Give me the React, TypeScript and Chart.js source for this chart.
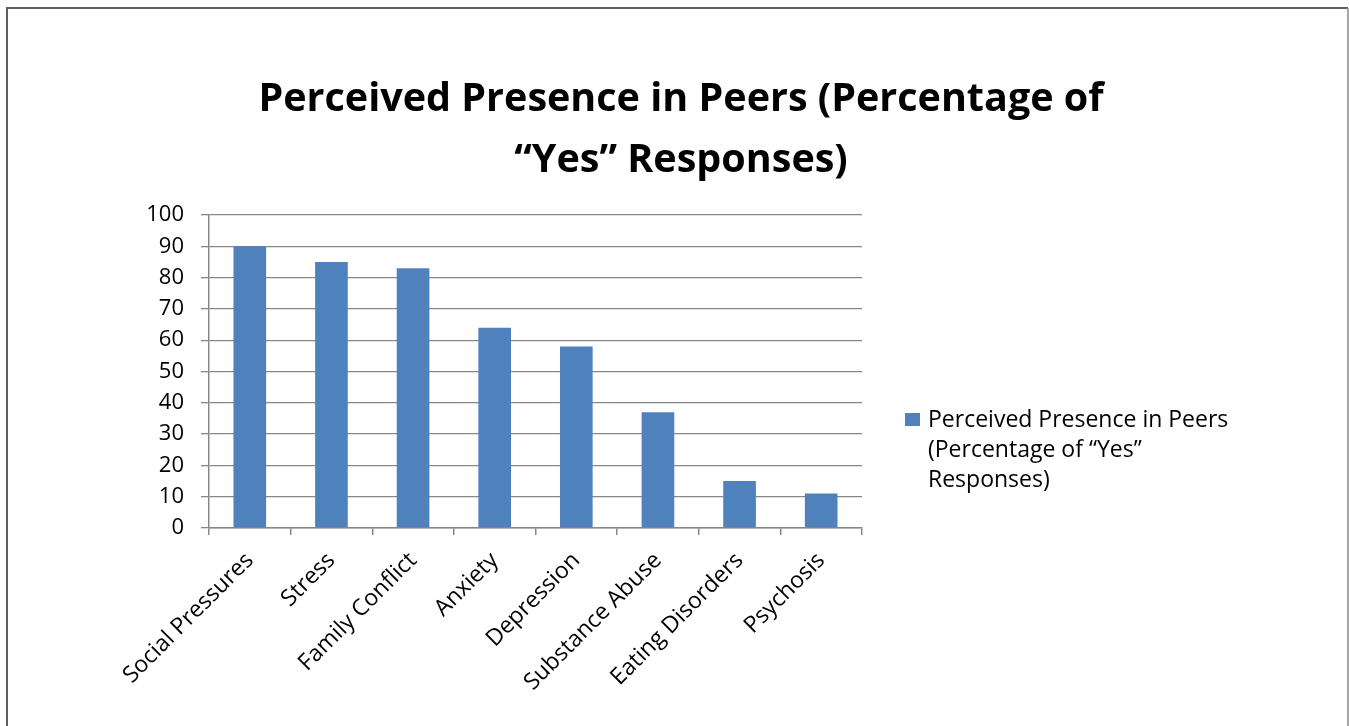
import React, { useEffect, useRef } from "react";
import { Chart, registerables } from "chart.js";

Chart.register(...registerables);

const categories = [
  "Social Pressures",
  "Stress",
  "Family Conflict",
  "Anxiety",
  "Depression",
  "Substance Abuse",
  "Eating Disorders",
  "Psychosis",
];
const yesPercent = [90, 85, 83, 64, 58, 37, 15, 11];
const titleLines = ["Perceived Presence in Peers (Percentage of", "“Yes” Responses)"];
const legendLines = ["Perceived Presence in Peers", "(Percentage of “Yes”", "Responses)"];
const yTickMax = 100;
const yTickStep = 10;

const W = 1349;
const H = 726;
const FONT = "'Open Sans', 'Liberation Sans', sans-serif";
const BAR = "#4F81BD";
const GRID = "#878787";

// Frame, two-line title and wrapped legend drawn on the canvas itself
const decorPlugin = {
  id: "decor",
  beforeDraw(chart: any) {
    const ctx = chart.ctx as CanvasRenderingContext2D;
    ctx.save();
    ctx.fillStyle = "#ffffff";
    ctx.fillRect(0, 0, W, H);
    ctx.lineWidth = 2;
    ctx.strokeStyle = "#5e5e5e";
    ctx.beginPath();
    ctx.moveTo(7, H);
    ctx.lineTo(7, 8);
    ctx.lineTo(1348, 8);
    ctx.stroke();
    ctx.strokeStyle = "#a6a6a6";
    ctx.beginPath();
    ctx.moveTo(1348, 8);
    ctx.lineTo(1348, H);
    ctx.stroke();
    ctx.restore();
  },
  afterDraw(chart: any) {
    const ctx = chart.ctx as CanvasRenderingContext2D;
    ctx.save();
    ctx.fillStyle = "#000000";
    ctx.textAlign = "center";
    ctx.textBaseline = "alphabetic";
    ctx.font = `bold 39.5px ${FONT}`;
    ctx.fillText(titleLines[0], 681, 111);
    ctx.fillText(titleLines[1], 681, 172);

    ctx.fillStyle = BAR;
    ctx.fillRect(905, 413, 15, 13);
    ctx.fillStyle = "#000000";
    ctx.textAlign = "left";
    ctx.font = `23px ${FONT}`;
    legendLines.forEach((line, i) => {
      ctx.fillText(line, 928, 427 + i * 30);
    });
    ctx.restore();
  },
};

export default function App() {
  const canvasRef = useRef<HTMLCanvasElement | null>(null);

  useEffect(() => {
    let chart: Chart | null = null;
    let cancelled = false;

    const build = () => {
      if (cancelled || !canvasRef.current) return;
      chart = new Chart(canvasRef.current, {
        type: "bar",
        data: {
          labels: categories,
          datasets: [
            {
              label: legendLines.join(" "),
              data: yesPercent,
              backgroundColor: BAR,
              borderWidth: 0,
              barPercentage: 0.4,
              categoryPercentage: 1,
            },
          ],
        },
        options: {
          animation: false,
          responsive: false,
          devicePixelRatio: 1,
          layout: { padding: { top: 215, right: 487, bottom: 0, left: 0 } },
          plugins: {
            legend: { display: false },
            title: { display: false },
            tooltip: { enabled: false },
          },
          scales: {
            x: {
              offset: true,
              grid: {
                offset: true,
                drawOnChartArea: false,
                drawTicks: true,
                tickLength: 7,
                color: GRID,
                lineWidth: 1.5,
              },
              border: { display: true, color: GRID, width: 1.5 },
              ticks: {
                autoSkip: false,
                minRotation: 45,
                maxRotation: 45,
                padding: 12,
                color: "#000000",
                font: { family: FONT, size: 23 },
              },
              afterFit(scale: any) {
                scale.height = 198;
              },
            },
            y: {
              min: 0,
              max: yTickMax,
              ticks: {
                stepSize: yTickStep,
                padding: 17,
                color: "#000000",
                font: { family: FONT, size: 22 },
              },
              grid: {
                color: GRID,
                lineWidth: 1.3,
                tickLength: 8,
              },
              border: { display: true, color: GRID, width: 1.5 },
              afterFit(scale: any) {
                scale.width = 209;
              },
            },
          },
        },
        plugins: [decorPlugin],
      });
    };

    const fontsReady = (document as any).fonts
      ? Promise.all([
          (document as any).fonts.load(`23px 'Open Sans'`),
          (document as any).fonts.load(`bold 39.5px 'Open Sans'`),
        ]).catch(() => null)
      : Promise.resolve(null);
    fontsReady.then(build);

    return () => {
      cancelled = true;
      if (chart) chart.destroy();
    };
  }, []);

  return (
    <div style={{ position: "fixed", left: 0, top: 0, width: W, height: H, background: "#fff" }}>
      <canvas ref={canvasRef} width={W} height={H} style={{ width: W, height: H, display: "block" }} />
    </div>
  );
}
